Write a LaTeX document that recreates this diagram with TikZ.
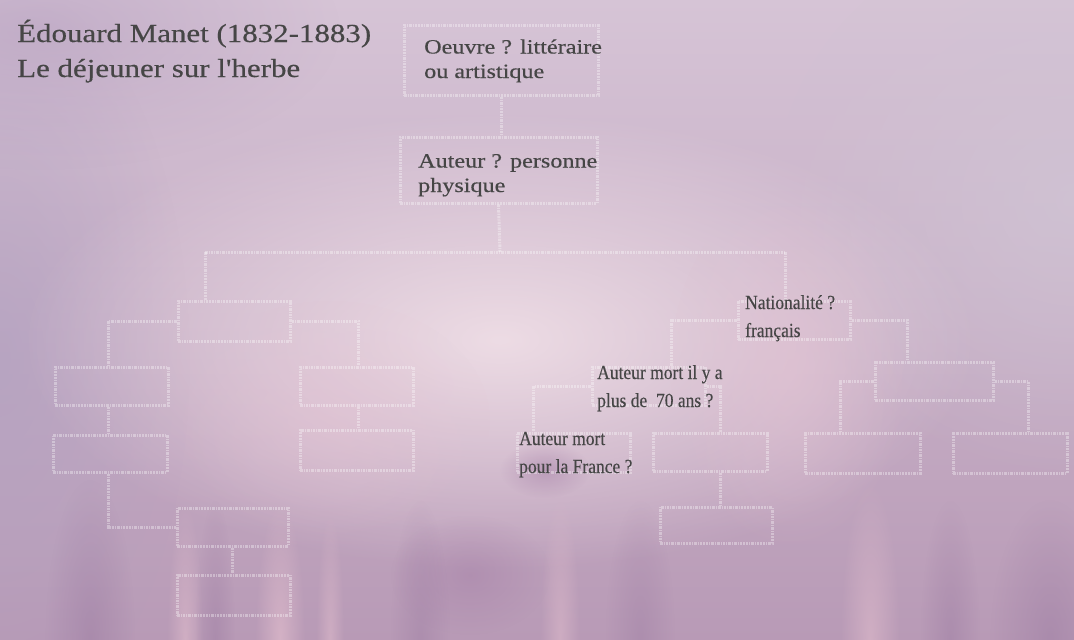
\documentclass[tikz,border=0pt]{standalone}
\usepackage{fontspec}
\setmainfont{Liberation Serif}
\newfontfamily\wideserif[FakeStretch=1.19,FakeBold=0.4]{Liberation Serif}
\newfontfamily\narrowserif[FakeStretch=0.875,FakeBold=0.3]{Liberation Serif}
\usetikzlibrary{fadings}
\definecolor{bgtop}{RGB}{214,196,214}
\definecolor{bgmid}{RGB}{236,216,225}
\definecolor{bgbot}{RGB}{184,154,182}
\definecolor{blobleft}{RGB}{176,160,192}
\definecolor{blobtl}{RGB}{186,164,194}
\definecolor{blobright}{RGB}{208,196,212}
\definecolor{blobbright}{RGB}{244,228,234}
\definecolor{blobpink}{RGB}{230,196,212}
\definecolor{blobpurple}{RGB}{164,126,166}
\definecolor{streakpink}{RGB}{224,188,204}
\definecolor{streakpurple}{RGB}{156,124,162}
\definecolor{textgray}{RGB}{70,70,70}
\tikzfading[name=softblob, inner color=transparent!0, outer color=transparent!100]
\tikzset{
  blob/.style={path fading=softblob, fill opacity=#1},
  blob/.default=0.6,
  codeline/.style={draw=white, draw opacity=0.34, line width=3pt,
    dash pattern=on 2.5pt off 1pt on 1.2pt off 1pt},
  codebox/.style={codeline, rectangle, inner sep=0pt},
  titletext/.style={text=textgray, inner sep=0pt, align=left,
    font=\wideserif\fontsize{26}{35}\selectfont},
  toplabel/.style={text=textgray, inner sep=0pt, align=left,
    font=\wideserif\fontsize{20.3}{24.5}\selectfont},
  lowlabel/.style={text=textgray, inner sep=0pt, align=left,
    font=\narrowserif\fontsize{20}{28}\selectfont},
}
\begin{document}
\begin{tikzpicture}[x=1pt,y=-1pt]
\useasboundingbox (0,0) rectangle (1074,640);
% ---------- background ----------
\shade[top color=bgtop, middle color=bgmid, bottom color=bgbot] (0,0) rectangle (1074,640);
\begin{scope}
\clip (0,0) rectangle (1074,640);
\fill[blobright, blob=0.8] (1074,200) ellipse [x radius=300, y radius=280];
\fill[blobleft, blob=0.65] (0,360) ellipse [x radius=190, y radius=380];
\fill[blobtl, blob=0.65] (40,30) ellipse [x radius=300, y radius=140];
\fill[blobbright, blob=0.85] (500,340) ellipse [x radius=480, y radius=230];
\fill[blobpink, blob=0.5] (790,370) ellipse [x radius=120, y radius=180];
\fill[blobpink, blob=0.45] (330,420) ellipse [x radius=160, y radius=120];
\fill[blobpurple, blob=0.5] (545,470) ellipse [x radius=45, y radius=28];
\fill[blobpurple, blob=0.45] (470,575) ellipse [x radius=80, y radius=60];
% bottom streaks
\fill[streakpurple, blob=0.5] (90,640) ellipse [x radius=45, y radius=160];
\fill[streakpink, blob=0.6] (185,640) ellipse [x radius=18, y radius=140];
\fill[streakpurple, blob=0.45] (215,640) ellipse [x radius=20, y radius=140];
\fill[streakpink, blob=0.7] (280,640) ellipse [x radius=25, y radius=140];
\fill[streakpink, blob=0.55] (330,640) ellipse [x radius=14, y radius=130];
\fill[streakpurple, blob=0.4] (420,640) ellipse [x radius=30, y radius=140];
\fill[streakpink, blob=0.55] (560,640) ellipse [x radius=20, y radius=150];
\fill[streakpurple, blob=0.4] (640,640) ellipse [x radius=35, y radius=140];
\fill[streakpink, blob=0.6] (870,640) ellipse [x radius=30, y radius=160];
\fill[streakpurple, blob=0.45] (950,640) ellipse [x radius=30, y radius=140];
\fill[streakpurple, blob=0.5] (1050,640) ellipse [x radius=60, y radius=140];
\end{scope}
% ---------- code boxes ----------
\node[codebox, minimum width=194, minimum height=70] (t1) at (501,60) {};
\node[codebox, minimum width=197, minimum height=66] (t2) at (498.5,170) {};
\node[codebox, minimum width=112, minimum height=40] (a) at (234,321) {};
\node[codebox, minimum width=113, minimum height=38] (b) at (111.5,386) {};
\node[codebox, minimum width=114, minimum height=37] (c) at (110,453.5) {};
\node[codebox, minimum width=111, minimum height=38] (d) at (232.5,527) {};
\node[codebox, minimum width=113, minimum height=40] (e) at (233.5,595) {};
\node[codebox, minimum width=113, minimum height=38] (f) at (356.5,386) {};
\node[codebox, minimum width=113, minimum height=40] (g) at (356.5,450) {};
\node[codebox, minimum width=112, minimum height=38] (n) at (794,320) {};
\node[codebox, minimum width=113, minimum height=38] (m) at (648.5,386) {};
\node[codebox, minimum width=113, minimum height=39] (p) at (573.5,452.5) {};
\node[codebox, minimum width=114, minimum height=38] (q) at (710,452) {};
\node[codebox, minimum width=112, minimum height=36] (r) at (716,525) {};
\node[codebox, minimum width=118, minimum height=38] (s) at (934,381) {};
\node[codebox, minimum width=115, minimum height=40] (tt) at (862.5,453) {};
\node[codebox, minimum width=114, minimum height=40] (u) at (1010,453) {};
\coordinate (busmid) at (500,252);
\coordinate (busleft) at (205,252);
\coordinate (busright) at (785,252);
% ---------- connectors ----------
\draw[codeline] (t1.south) -- (t1.south |- t2.north);
\draw[codeline] (t2.south) -- (busmid);
\draw[codeline] (busleft) -- (busright);
\draw[codeline] (busleft) -- (busleft |- a.north);
\draw[codeline] (busright) -- (busright |- n.north);
\draw[codeline] (a.west) -| ([xshift=-3pt]b.north);
\draw[codeline] (a.east) -| ([xshift=1.5pt]f.north);
\draw[codeline] ([xshift=-3pt]b.south) -- ([xshift=-3pt]b.south |- c.north);
\draw[codeline] ([xshift=-2pt]c.south) |- (d.west);
\draw[codeline] (d.south) -- (d.south |- e.north);
\draw[codeline] ([xshift=1.5pt]f.south) -- ([xshift=1.5pt]f.south |- g.north);
\draw[codeline] (n.west) -| ([xshift=23pt]m.north);
\draw[codeline] (m.west) -| ([xshift=-40pt]p.north);
\draw[codeline] (m.east) -| ([xshift=10pt]q.north);
\draw[codeline] ([xshift=10pt]q.south) -- ([xshift=10pt]q.south |- r.north);
\draw[codeline] (n.east) -| ([xshift=-27pt]s.north);
\draw[codeline] (s.west) -| ([xshift=-22pt]tt.north);
\draw[codeline] (s.east) -| ([xshift=18pt]u.north);
% ---------- texts (base = baseline of last line) ----------
\node[titletext, anchor=base west] (title) at (17,77) {Édouard Manet (1832-1883)\\Le déjeuner sur l'herbe};
\node[toplabel, anchor=base west] (oeuvre) at (424,78) {Oeuvre ? littéraire\\ou artistique};
\node[toplabel, anchor=base west] (auteur) at (418,192) {Auteur ? personne\\physique};
\node[lowlabel, anchor=base west] (natio) at (745,337) {Nationalité ?\\français};
\node[lowlabel, anchor=base west] (mort70) at (597,407) {Auteur mort il y a\\plus de~ 70 ans ?};
\node[lowlabel, anchor=base west] (mortfr) at (519,473) {Auteur mort\\pour la France ?};
\end{tikzpicture}
\end{document}
